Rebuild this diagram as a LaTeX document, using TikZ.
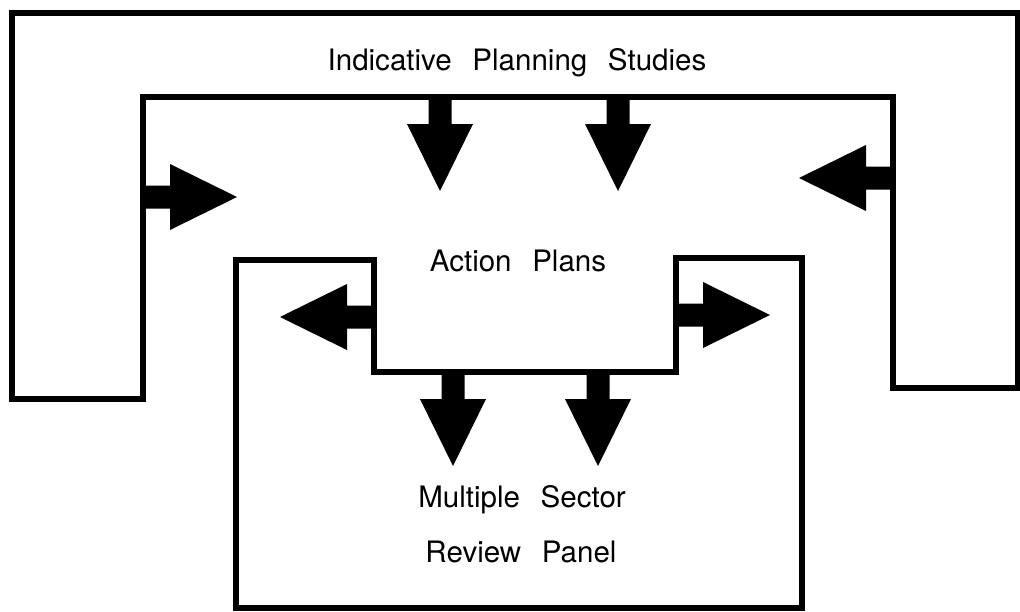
\documentclass[tikz,border=0pt]{standalone}
\usepackage{fontspec}
\setmainfont{TeX Gyre Heros}

% wide word gap used in the labels
\newcommand{\wgap}{\hspace{0.7em}}

% solid block arrow: base point, direction
\newcommand{\blockarrow}[2]{%
  \fill[shift={#1}, rotate=#2] (0,-11.5) -- (27,-11.5) -- (27,-33) -- (94,0)
    -- (27,33) -- (27,11.5) -- (0,11.5) -- cycle;}

\begin{document}
\begin{tikzpicture}[x=0.025cm, y=-0.025cm,
    frame/.style={line width=3.6pt, line join=miter},
    label/.style={font=\fontsize{21}{25}\selectfont, anchor=base}]
    \useasboundingbox (0,0) rectangle (1020,612);

    % Outer frame (upside-down U)
    \draw[frame] (12,13) -- (1018,13) -- (1018,388) -- (893,388) -- (893,97)
        -- (143,97) -- (143,399) -- (12,399) -- cycle;

    % Inner box with the notch on top
    \draw[frame] (236,260) -- (374,260) -- (374,372) -- (676,372) -- (676,258)
        -- (802,258) -- (802,608) -- (236,608) -- cycle;

    % Labels
    \node[label] (ips) at (517,70) {Indicative\wgap Planning\wgap Studies};
    \node[label] (ap) at (518,271) {Action\wgap Plans};
    \node[label] (ms) at (522,507) {Multiple\wgap Sector};
    \node[label] (rp) at (521,562) {Review\wgap Panel};

    % Arrows from the outer frame
    \blockarrow{(143,197)}{0}
    \blockarrow{(893,178)}{180}
    \blockarrow{(440,97)}{-90}
    \blockarrow{(618,97)}{-90}

    % Arrows from the notch of the inner box
    \blockarrow{(374,317)}{180}
    \blockarrow{(676,315)}{0}
    \blockarrow{(453,372)}{-90}
    \blockarrow{(598,372)}{-90}
\end{tikzpicture}
\end{document}
